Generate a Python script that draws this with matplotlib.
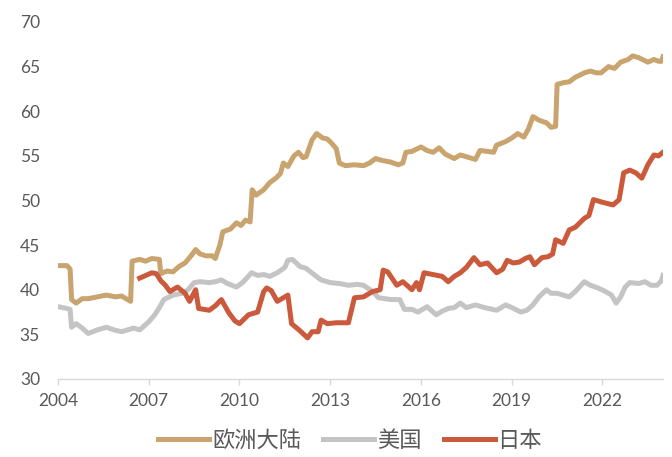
import matplotlib
matplotlib.use("Agg")
import matplotlib.pyplot as plt

# ---- data ----
eu_x = [2004.0, 2004.3, 2004.4, 2004.45, 2004.6, 2004.8, 2005.0, 2005.3, 2005.6, 2005.9, 2006.1, 2006.3, 2006.4,
        2006.45, 2006.7, 2006.9, 2007.1, 2007.35, 2007.4, 2007.6, 2007.8, 2008.0, 2008.2, 2008.4, 2008.55, 2008.7,
        2008.9, 2009.1, 2009.2, 2009.35, 2009.45, 2009.7, 2009.9, 2010.05, 2010.2, 2010.35, 2010.42, 2010.55, 2010.8,
        2011.0, 2011.2, 2011.35, 2011.45, 2011.6, 2011.8, 2011.95, 2012.1, 2012.2, 2012.4, 2012.55, 2012.75, 2012.9,
        2013.05, 2013.2, 2013.3, 2013.5, 2013.8, 2014.1, 2014.3, 2014.5, 2014.7, 2015.0, 2015.25, 2015.4, 2015.5,
        2015.7, 2016.0, 2016.2, 2016.4, 2016.6, 2016.8, 2017.1, 2017.3, 2017.6, 2017.8, 2017.95, 2018.2, 2018.4,
        2018.5, 2018.8, 2019.0, 2019.2, 2019.4, 2019.55, 2019.7, 2019.9, 2020.15, 2020.3, 2020.45, 2020.5, 2020.7,
        2020.9, 2021.1, 2021.4, 2021.6, 2021.8, 2021.95, 2022.2, 2022.4, 2022.6, 2022.85, 2023.0, 2023.2, 2023.5,
        2023.7, 2023.85, 2023.95, 2024.0]
eu_y = [42.7, 42.7, 42.3, 38.9, 38.5, 39.0, 39.0, 39.2, 39.4, 39.2, 39.3, 38.9, 38.7,
        43.2, 43.4, 43.2, 43.5, 43.4, 41.8, 42.1, 42.0, 42.6, 43.0, 43.8, 44.5, 44.0,
        43.8, 43.8, 43.5, 45.0, 46.5, 46.8, 47.5, 47.2, 47.8, 47.6, 51.2, 50.6, 51.2,
        52.0, 52.5, 53.0, 54.2, 53.8, 55.0, 55.4, 54.8, 54.9, 56.8, 57.5, 57.0, 56.9,
        56.4, 55.8, 54.2, 53.9, 54.0, 53.9, 54.2, 54.7, 54.5, 54.3, 54.0, 54.2, 55.4,
        55.5, 56.0, 55.6, 55.4, 55.9, 55.2, 54.7, 55.1, 54.8, 54.6, 55.6, 55.5, 55.4,
        56.2, 56.6, 57.0, 57.5, 57.1, 58.0, 59.4, 59.0, 58.7, 58.2, 58.3, 63.0, 63.2,
        63.3, 63.8, 64.3, 64.5, 64.3, 64.3, 65.0, 64.8, 65.5, 65.8, 66.2, 66.0, 65.5,
        65.8, 65.6, 65.6, 66.1]

us_x = [2004.0, 2004.3, 2004.4, 2004.45, 2004.6, 2004.8, 2005.0, 2005.3, 2005.6, 2005.85, 2006.1, 2006.3, 2006.5,
        2006.7, 2007.0, 2007.2, 2007.35, 2007.5, 2007.8, 2008.1, 2008.3, 2008.5, 2008.7, 2009.0, 2009.2, 2009.4,
        2009.6, 2009.9, 2010.1, 2010.4, 2010.6, 2010.8, 2011.0, 2011.25, 2011.5, 2011.6, 2011.75, 2012.0, 2012.2,
        2012.5, 2012.7, 2013.0, 2013.3, 2013.6, 2013.9, 2014.1, 2014.4, 2014.6, 2014.8, 2015.0, 2015.3, 2015.45,
        2015.7, 2015.9, 2016.2, 2016.5, 2016.7, 2016.9, 2017.1, 2017.3, 2017.5, 2017.8, 2018.1, 2018.5, 2018.8,
        2019.0, 2019.3, 2019.5, 2019.7, 2019.9, 2020.15, 2020.3, 2020.5, 2020.7, 2020.9, 2021.1, 2021.4, 2021.6,
        2021.85, 2022.1, 2022.3, 2022.45, 2022.6, 2022.75, 2022.9, 2023.2, 2023.4, 2023.6, 2023.8, 2023.95, 2024.0]
us_y = [38.1, 37.9, 37.8, 35.8, 36.2, 35.7, 35.1, 35.5, 35.8, 35.5, 35.3, 35.5, 35.7,
        35.5, 36.4, 37.2, 38.0, 38.9, 39.4, 39.6, 40.0, 40.8, 40.9, 40.8, 40.9, 41.1,
        40.7, 40.3, 40.8, 41.9, 41.6, 41.7, 41.5, 41.9, 42.5, 43.3, 43.4, 42.6, 42.4,
        41.6, 41.1, 40.8, 40.7, 40.5, 40.6, 40.5, 39.8, 39.1, 39.0, 38.9, 38.9, 37.8,
        37.8, 37.5, 38.1, 37.2, 37.6, 37.9, 38.0, 38.5, 38.0, 38.3, 38.0, 37.7, 38.3,
        38.0, 37.5, 37.7, 38.3, 39.2, 40.0, 39.6, 39.6, 39.4, 39.2, 39.8, 40.9, 40.5,
        40.2, 39.8, 39.4, 38.5, 39.2, 40.3, 40.8, 40.7, 40.9, 40.5, 40.5, 41.0, 41.6]

jp_x = [2006.7, 2006.9, 2007.1, 2007.25, 2007.4, 2007.55, 2007.7, 2007.95, 2008.2, 2008.35, 2008.55, 2008.65,
        2009.0, 2009.2, 2009.4, 2009.65, 2009.85, 2010.0, 2010.3, 2010.6, 2010.8, 2010.9, 2011.05, 2011.25, 2011.4,
        2011.6, 2011.72, 2012.0, 2012.25, 2012.4, 2012.6, 2012.7, 2012.9, 2013.2, 2013.6, 2013.8, 2014.1, 2014.4,
        2014.65, 2014.75, 2014.9, 2015.2, 2015.4, 2015.7, 2015.85, 2015.95, 2016.1, 2016.4, 2016.7, 2016.9, 2017.1,
        2017.3, 2017.5, 2017.75, 2017.95, 2018.2, 2018.5, 2018.7, 2018.85, 2019.05, 2019.25, 2019.45, 2019.6,
        2019.75, 2020.0, 2020.2, 2020.35, 2020.45, 2020.7, 2020.9, 2021.1, 2021.4, 2021.55, 2021.7, 2022.0, 2022.35,
        2022.55, 2022.7, 2022.9, 2023.1, 2023.3, 2023.5, 2023.7, 2023.85, 2024.0]
jp_y = [41.3, 41.6, 41.9, 41.8, 41.0, 40.5, 39.8, 40.3, 39.6, 38.7, 40.0, 37.9,
        37.7, 38.2, 38.9, 37.4, 36.5, 36.2, 37.2, 37.5, 39.8, 40.2, 39.9, 38.7, 39.0,
        39.4, 36.2, 35.4, 34.6, 35.3, 35.3, 36.6, 36.2, 36.3, 36.3, 39.1, 39.2, 39.8,
        40.0, 42.2, 42.0, 40.5, 40.9, 40.0, 40.8, 40.0, 41.9, 41.7, 41.5, 40.9, 41.5,
        41.9, 42.5, 43.6, 42.8, 43.0, 41.9, 42.3, 43.3, 43.0, 43.1, 43.5, 43.7,
        42.8, 43.6, 43.7, 44.0, 45.6, 45.2, 46.7, 47.0, 48.0, 48.3, 50.1, 49.8, 49.5,
        50.1, 53.1, 53.4, 53.1, 52.5, 54.0, 55.1, 55.0, 55.4]

labels = ["欧洲大陆", "美国", "日本"]
x_ticks = [2004, 2007, 2010, 2013, 2016, 2019, 2022]
y_ticks = [30, 35, 40, 45, 50, 55, 60, 65, 70]

# ---- style ----
plt.rcParams['font.family'] = ['Lato', 'Noto Sans CJK SC', 'DejaVu Sans']
c_eu, c_us, c_jp = "#C9A46F", "#C4C4C4", "#CB5A3C"
text_c = "#595959"

fig = plt.figure(figsize=(6.72, 4.57), dpi=100)
ax = fig.add_axes([0.0863, 0.1707, 0.9003, 0.7812])

lw = 3.6
ax.plot(eu_x, eu_y, color=c_eu, lw=lw, label=labels[0], solid_joinstyle='round')
ax.plot(us_x, us_y, color=c_us, lw=lw, label=labels[1], solid_joinstyle='round')
ax.plot(jp_x, jp_y, color=c_jp, lw=lw, label=labels[2], solid_joinstyle='round')

ax.set_xlim(2004, 2024)
ax.set_ylim(30, 70)
ax.set_xticks(x_ticks)
ax.set_xticklabels([str(t) for t in x_ticks])
ax.set_yticks(y_ticks)

for s in ['top', 'right', 'left']:
    ax.spines[s].set_visible(False)
ax.spines['bottom'].set_color("#D9D9D9")
ax.spines['bottom'].set_linewidth(1.0)
ax.tick_params(axis='x', colors="#D9D9D9", length=4, width=1, labelcolor=text_c, labelsize=12.5, pad=6)
ax.tick_params(axis='y', length=0, labelcolor=text_c, labelsize=12.5, pad=13)

leg = fig.legend(loc='center', bbox_to_anchor=(0.521, 0.037), ncol=3, frameon=False,
                 handlelength=2.3, handletextpad=0.12, columnspacing=1.0,
                 prop={'family': ['Noto Sans CJK SC', 'DejaVu Sans'], 'size': 16})
for t in leg.get_texts():
    t.set_color(text_c)

fig.savefig("out.png", dpi=100)
